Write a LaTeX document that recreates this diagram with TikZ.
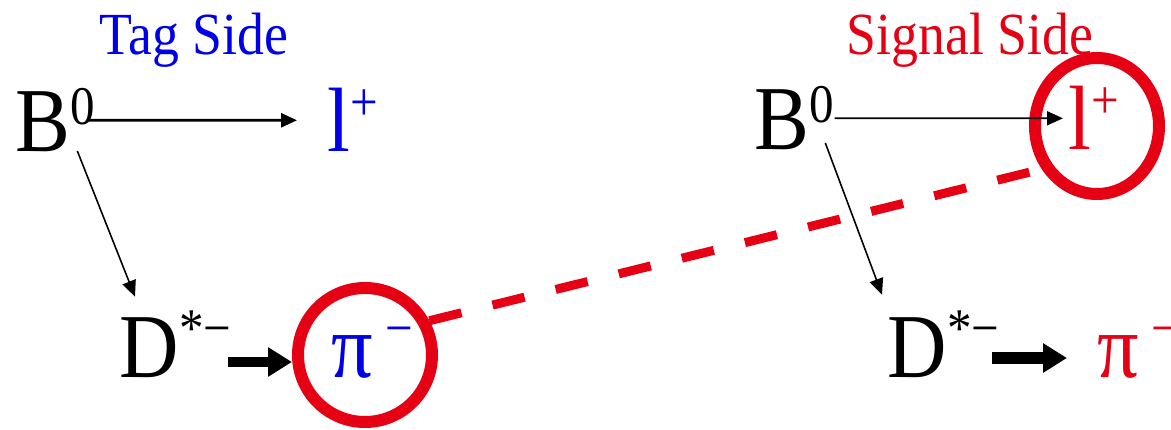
\documentclass[tikz,border=0pt]{standalone}
\usepackage{fontspec}
\setmainfont{Liberation Serif}
\usepackage{tikz}
\usetikzlibrary{arrows.meta,positioning,shapes.geometric}
\definecolor{tagblue}{RGB}{0,0,230}
\definecolor{sigred}{RGB}{230,0,20}
\newcommand\upidx[2][0.35em]{\raisebox{#1}{\fontsize{15.5}{16}\selectfont #2}}

\begin{document}
\begin{tikzpicture}[
  part/.style={inner sep=0, anchor=base west, xscale=0.9, font=\fontsize{26}{28}\selectfont},
  sidelabel/.style={inner sep=0, anchor=base, xscale=0.9, font=\fontsize{17}{19}\selectfont},
  ring/.style={draw=sigred, line width=0.12cm, inner sep=0},
  decay/.style={-{Triangle[length=1.6mm,width=1.4mm]}, line width=0.5pt},
  fat/.style={-{Triangle[length=2.4mm,width=2.8mm]}, line width=0.1cm},
  link/.style={draw=sigred, line width=0.09cm, dash pattern=on 0.33cm off 0.32cm}
]
\useasboundingbox (0,0) rectangle (11.71,4.30);
% labels
\node[sidelabel, text=tagblue] (tag) at (1.94,3.75) {Tag Side};
\node[sidelabel, text=sigred] (sig) at (9.70,3.75) {Signal Side};
% tag side
\node[part] (b1) at (0.15,2.78) {B\upidx[0.3em]{0}};
\node[part, text=tagblue] (l1) at (3.27,2.78) {l\upidx{+}};
\node[part] (d1) at (1.19,0.52) {D\upidx{*−}};
\node[part, text=tagblue] (p1) at (3.31,0.52) {π\hspace{0.15em}\upidx{−}};
% signal side
\node[part] (b2) at (7.54,2.80) {B\upidx[0.3em]{0}};
\node[part, text=sigred] (l2) at (10.68,2.80) {l\upidx{+}};
\node[part] (d2) at (8.87,0.52) {D\upidx{*−}};
\node[part, text=sigred] (p2) at (10.97,0.52) {π\hspace{0.15em}\upidx{−}};
% rings
\node[ring, circle, minimum size=1.34cm] (pc) at (3.65,0.75) {};
\node[ring, ellipse, minimum width=1.24cm, minimum height=1.36cm] (lc) at (10.97,3.04) {};
% arrows
\draw[decay, line width=0.8pt, shorten <=-0.09cm, shorten >=0.3cm] (b1.east) -- (l1.west);
\draw[decay, shorten >=0.05cm] (b2.east) -- (l2.west);
\draw[decay, line width=0.45pt] ([xshift=0.22cm,yshift=0.02cm]b1.south) -- ([xshift=0.16cm,yshift=0.13cm]d1.north west);
\draw[decay, line width=0.45pt] ([xshift=0.31cm,yshift=0.08cm]b2.south) -- ([xshift=-0.05cm,yshift=0.15cm]d2.north west);
\draw[fat, shorten <=-0.04cm] ([yshift=-0.07cm]d1.east |- pc.west) -- ([yshift=-0.07cm]pc.west);
\draw[fat, line width=0.12cm, shorten <=-0.08cm, shorten >=0.3cm] ([yshift=-0.03cm]d2.east |- pc.west) -- ([yshift=-0.03cm]p2.west |- pc.west);
\draw[link] (pc.28) -- (lc.218);
\end{tikzpicture}
\end{document}
